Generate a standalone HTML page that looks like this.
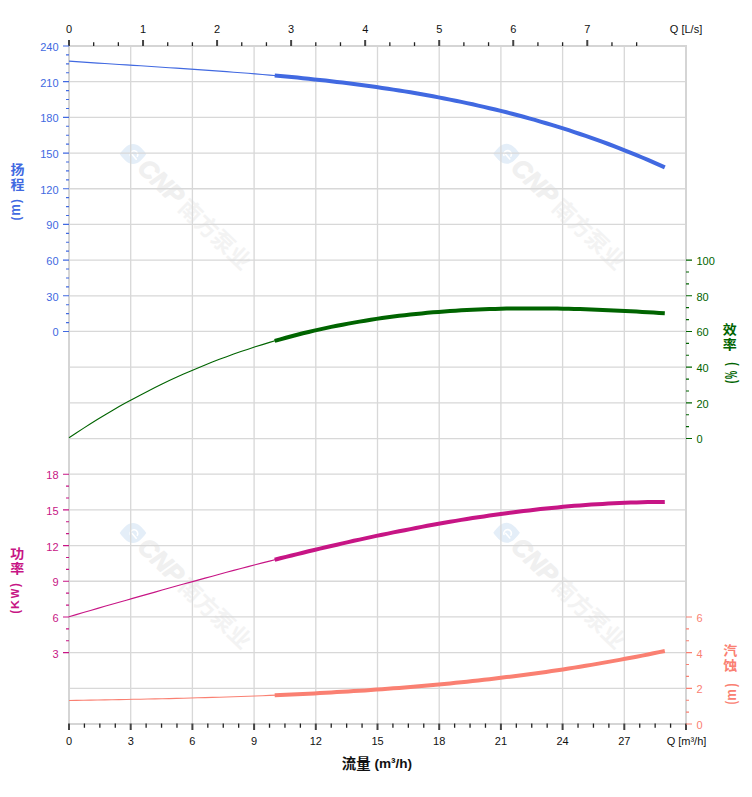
<!DOCTYPE html>
<html lang="zh"><head><meta charset="utf-8"><title>泵性能曲线</title>
<style>html,body{margin:0;padding:0;background:#fff}svg{display:block}text{font-family:"Liberation Sans","Noto Sans CJK SC",sans-serif}.t{font-size:11px}.b{font-weight:bold}</style></head><body>
<svg width="752" height="797" viewBox="0 0 752 797">
<rect width="752" height="797" fill="#fff"/>
<g transform="translate(133.0,154.0)"><path d="M-13.3,0 C-9,-6 -5,-10 0,-10 C5,-10 9,-6 13.3,0 C9,6 5,10 0,10 C-5,10 -9,6 -13.3,0 Z" fill="#e4eef8"/><g fill="none" stroke="#fff" stroke-linecap="round" stroke-width="1.6"><path d="M-2.7,1.6 A3.8,3.8 0 1 1 4.3,2.4"/><path d="M-0.8,0.6 L3.2,5.2"/></g><g transform="rotate(43.7)"><text x="13" y="9" font-size="25px" font-weight="bold" font-style="italic" fill="#f0f0f0" stroke="#f0f0f0" stroke-width="1.1" stroke-linejoin="round">CNP</text><text x="70" y="9.5" font-size="22.5px" font-weight="bold" fill="#f3f3f3">南方泵业</text></g></g>
<g transform="translate(506.6,153.8)"><path d="M-13.3,0 C-9,-6 -5,-10 0,-10 C5,-10 9,-6 13.3,0 C9,6 5,10 0,10 C-5,10 -9,6 -13.3,0 Z" fill="#e4eef8"/><g fill="none" stroke="#fff" stroke-linecap="round" stroke-width="1.6"><path d="M-2.7,1.6 A3.8,3.8 0 1 1 4.3,2.4"/><path d="M-0.8,0.6 L3.2,5.2"/></g><g transform="rotate(43.7)"><text x="13" y="9" font-size="25px" font-weight="bold" font-style="italic" fill="#f0f0f0" stroke="#f0f0f0" stroke-width="1.1" stroke-linejoin="round">CNP</text><text x="70" y="9.5" font-size="22.5px" font-weight="bold" fill="#f3f3f3">南方泵业</text></g></g>
<g transform="translate(133.0,533.0)"><path d="M-13.3,0 C-9,-6 -5,-10 0,-10 C5,-10 9,-6 13.3,0 C9,6 5,10 0,10 C-5,10 -9,6 -13.3,0 Z" fill="#e4eef8"/><g fill="none" stroke="#fff" stroke-linecap="round" stroke-width="1.6"><path d="M-2.7,1.6 A3.8,3.8 0 1 1 4.3,2.4"/><path d="M-0.8,0.6 L3.2,5.2"/></g><g transform="rotate(43.7)"><text x="13" y="9" font-size="25px" font-weight="bold" font-style="italic" fill="#f0f0f0" stroke="#f0f0f0" stroke-width="1.1" stroke-linejoin="round">CNP</text><text x="70" y="9.5" font-size="22.5px" font-weight="bold" fill="#f3f3f3">南方泵业</text></g></g>
<g transform="translate(506.6,532.8)"><path d="M-13.3,0 C-9,-6 -5,-10 0,-10 C5,-10 9,-6 13.3,0 C9,6 5,10 0,10 C-5,10 -9,6 -13.3,0 Z" fill="#e4eef8"/><g fill="none" stroke="#fff" stroke-linecap="round" stroke-width="1.6"><path d="M-2.7,1.6 A3.8,3.8 0 1 1 4.3,2.4"/><path d="M-0.8,0.6 L3.2,5.2"/></g><g transform="rotate(43.7)"><text x="13" y="9" font-size="25px" font-weight="bold" font-style="italic" fill="#f0f0f0" stroke="#f0f0f0" stroke-width="1.1" stroke-linejoin="round">CNP</text><text x="70" y="9.5" font-size="22.5px" font-weight="bold" fill="#f3f3f3">南方泵业</text></g></g>
<path d="M130.70,46.0 V724.0 M192.40,46.0 V724.0 M254.10,46.0 V724.0 M315.80,46.0 V724.0 M377.50,46.0 V724.0 M439.20,46.0 V724.0 M500.90,46.0 V724.0 M562.60,46.0 V724.0 M624.30,46.0 V724.0 M69.0,81.68 H686.0 M69.0,117.37 H686.0 M69.0,153.05 H686.0 M69.0,188.74 H686.0 M69.0,224.42 H686.0 M69.0,260.11 H686.0 M69.0,295.79 H686.0 M69.0,331.47 H686.0 M69.0,367.16 H686.0 M69.0,402.84 H686.0 M69.0,438.53 H686.0 M69.0,474.21 H686.0 M69.0,509.89 H686.0 M69.0,545.58 H686.0 M69.0,581.26 H686.0 M69.0,616.95 H686.0 M69.0,652.63 H686.0 M69.0,688.32 H686.0" stroke="#d8d8d8" stroke-width="1.3" fill="none"/>
<rect x="69.0" y="46.0" width="617.0" height="678.0" fill="none" stroke="#d5d5d5" stroke-width="2"/>
<path d="M69.00,40 V46 M143.04,40 V46 M217.08,40 V46 M291.12,40 V46 M365.16,40 V46 M439.20,40 V46 M513.24,40 V46 M587.28,40 V46" stroke="#444" stroke-width="2" fill="none"/>
<path d="M93.68,42.3 V46 M118.36,42.3 V46 M167.72,42.3 V46 M192.40,42.3 V46 M241.76,42.3 V46 M266.44,42.3 V46 M315.80,42.3 V46 M340.48,42.3 V46 M389.84,42.3 V46 M414.52,42.3 V46 M463.88,42.3 V46 M488.56,42.3 V46 M537.92,42.3 V46 M562.60,42.3 V46 M611.96,42.3 V46 M636.64,42.3 V46" stroke="#222" stroke-width="1.3" fill="none"/>
<text class="t" x="69.0" y="33" text-anchor="middle" fill="#111">0</text>
<text class="t" x="143.0" y="33" text-anchor="middle" fill="#111">1</text>
<text class="t" x="217.1" y="33" text-anchor="middle" fill="#111">2</text>
<text class="t" x="291.1" y="33" text-anchor="middle" fill="#111">3</text>
<text class="t" x="365.2" y="33" text-anchor="middle" fill="#111">4</text>
<text class="t" x="439.2" y="33" text-anchor="middle" fill="#111">5</text>
<text class="t" x="513.2" y="33" text-anchor="middle" fill="#111">6</text>
<text class="t" x="587.3" y="33" text-anchor="middle" fill="#111">7</text>
<text class="t" x="686" y="33" text-anchor="middle" fill="#111">Q [L/s]</text>
<path d="M69.00,723.6 V730 M130.70,723.6 V730 M192.40,723.6 V730 M254.10,723.6 V730 M315.80,723.6 V730 M377.50,723.6 V730 M439.20,723.6 V730 M500.90,723.6 V730 M562.60,723.6 V730 M624.30,723.6 V730 M686.00,723.6 V730" stroke="#444" stroke-width="2" fill="none"/>
<path d="M84.42,723.6 V727.8 M99.85,723.6 V727.8 M115.28,723.6 V727.8 M146.12,723.6 V727.8 M161.55,723.6 V727.8 M176.97,723.6 V727.8 M207.82,723.6 V727.8 M223.25,723.6 V727.8 M238.67,723.6 V727.8 M269.52,723.6 V727.8 M284.95,723.6 V727.8 M300.38,723.6 V727.8 M331.23,723.6 V727.8 M346.65,723.6 V727.8 M362.07,723.6 V727.8 M392.92,723.6 V727.8 M408.35,723.6 V727.8 M423.77,723.6 V727.8 M454.62,723.6 V727.8 M470.05,723.6 V727.8 M485.47,723.6 V727.8 M516.32,723.6 V727.8 M531.75,723.6 V727.8 M547.17,723.6 V727.8 M578.03,723.6 V727.8 M593.45,723.6 V727.8 M608.88,723.6 V727.8 M639.73,723.6 V727.8 M655.15,723.6 V727.8 M670.58,723.6 V727.8" stroke="#222" stroke-width="1.3" fill="none"/>
<text class="t" x="69.0" y="745" text-anchor="middle" fill="#111">0</text>
<text class="t" x="130.7" y="745" text-anchor="middle" fill="#111">3</text>
<text class="t" x="192.4" y="745" text-anchor="middle" fill="#111">6</text>
<text class="t" x="254.1" y="745" text-anchor="middle" fill="#111">9</text>
<text class="t" x="315.8" y="745" text-anchor="middle" fill="#111">12</text>
<text class="t" x="377.5" y="745" text-anchor="middle" fill="#111">15</text>
<text class="t" x="439.2" y="745" text-anchor="middle" fill="#111">18</text>
<text class="t" x="500.9" y="745" text-anchor="middle" fill="#111">21</text>
<text class="t" x="562.6" y="745" text-anchor="middle" fill="#111">24</text>
<text class="t" x="624.3" y="745" text-anchor="middle" fill="#111">27</text>
<text class="t" x="686.5" y="745" text-anchor="middle" fill="#111">Q [m³/h]</text>
<text class="b" x="377" y="768" text-anchor="middle" font-size="13.6px" fill="#111"><tspan font-size="14.4px" dy="0.9">流量</tspan><tspan dy="-0.9"> (m³/h)</tspan></text>
<path d="M63,46.00 H69 M63,81.68 H69 M63,117.37 H69 M63,153.05 H69 M63,188.74 H69 M63,224.42 H69 M63,260.11 H69 M63,295.79 H69 M63,331.47 H69" stroke="#4169E1" stroke-width="1.15" fill="none"/>
<path d="M66,54.92 H69 M66,63.84 H69 M66,72.76 H69 M66,90.61 H69 M66,99.53 H69 M66,108.45 H69 M66,126.29 H69 M66,135.21 H69 M66,144.13 H69 M66,161.97 H69 M66,170.89 H69 M66,179.82 H69 M66,197.66 H69 M66,206.58 H69 M66,215.50 H69 M66,233.34 H69 M66,242.26 H69 M66,251.18 H69 M66,269.03 H69 M66,277.95 H69 M66,286.87 H69 M66,304.71 H69 M66,313.63 H69 M66,322.55 H69" stroke="#4169E1" stroke-width="1.15" fill="none"/>
<text class="t" x="58.6" y="50.9" text-anchor="end" fill="#4169E1">240</text>
<text class="t" x="58.6" y="86.6" text-anchor="end" fill="#4169E1">210</text>
<text class="t" x="58.6" y="122.3" text-anchor="end" fill="#4169E1">180</text>
<text class="t" x="58.6" y="158.0" text-anchor="end" fill="#4169E1">150</text>
<text class="t" x="58.6" y="193.6" text-anchor="end" fill="#4169E1">120</text>
<text class="t" x="58.6" y="229.3" text-anchor="end" fill="#4169E1">90</text>
<text class="t" x="58.6" y="265.0" text-anchor="end" fill="#4169E1">60</text>
<text class="t" x="58.6" y="300.7" text-anchor="end" fill="#4169E1">30</text>
<text class="t" x="58.6" y="336.4" text-anchor="end" fill="#4169E1">0</text>
<path d="M686,260.11 H692 M686,295.79 H692 M686,331.47 H692 M686,367.16 H692 M686,402.84 H692 M686,438.53 H692" stroke="#006400" stroke-width="1.15" fill="none"/>
<path d="M686,272.00 H689 M686,283.89 H689 M686,307.68 H689 M686,319.58 H689 M686,343.37 H689 M686,355.26 H689 M686,379.05 H689 M686,390.95 H689 M686,414.74 H689 M686,426.63 H689" stroke="#006400" stroke-width="1.15" fill="none"/>
<text class="t" x="696.5" y="265.0" fill="#006400">100</text>
<text class="t" x="696.5" y="300.7" fill="#006400">80</text>
<text class="t" x="696.5" y="336.4" fill="#006400">60</text>
<text class="t" x="696.5" y="372.1" fill="#006400">40</text>
<text class="t" x="696.5" y="407.7" fill="#006400">20</text>
<text class="t" x="696.5" y="443.4" fill="#006400">0</text>
<path d="M63,474.21 H69 M63,509.89 H69 M63,545.58 H69 M63,581.26 H69 M63,616.95 H69 M63,652.63 H69" stroke="#C71585" stroke-width="1.15" fill="none"/>
<path d="M66,486.11 H69 M66,498.00 H69 M66,521.79 H69 M66,533.68 H69 M66,557.47 H69 M66,569.37 H69 M66,593.16 H69 M66,605.05 H69 M66,628.84 H69 M66,640.74 H69" stroke="#C71585" stroke-width="1.15" fill="none"/>
<text class="t" x="58.6" y="479.1" text-anchor="end" fill="#C71585">18</text>
<text class="t" x="58.6" y="514.8" text-anchor="end" fill="#C71585">15</text>
<text class="t" x="58.6" y="550.5" text-anchor="end" fill="#C71585">12</text>
<text class="t" x="58.6" y="586.2" text-anchor="end" fill="#C71585">9</text>
<text class="t" x="58.6" y="621.8" text-anchor="end" fill="#C71585">6</text>
<text class="t" x="58.6" y="657.5" text-anchor="end" fill="#C71585">3</text>
<path d="M686,616.95 H692 M686,652.63 H692 M686,688.32 H692 M686,724.00 H692" stroke="#FA8072" stroke-width="1.15" fill="none"/>
<path d="M686,628.84 H689 M686,640.74 H689 M686,664.53 H689 M686,676.42 H689 M686,700.21 H689 M686,712.11 H689" stroke="#FA8072" stroke-width="1.15" fill="none"/>
<text class="t" x="696.5" y="621.8" fill="#FA8072">6</text>
<text class="t" x="696.5" y="657.5" fill="#FA8072">4</text>
<text class="t" x="696.5" y="693.2" fill="#FA8072">2</text>
<text class="t" x="696.5" y="728.9" fill="#FA8072">0</text>
<polyline points="69.0,61.1 76.2,61.6 83.3,62.1 90.5,62.6 97.7,63.1 104.8,63.5 112.0,64.0 119.1,64.5 126.3,64.9 133.5,65.4 140.6,65.8 147.8,66.3 155.0,66.7 162.1,67.2 169.3,67.7 176.4,68.1 183.6,68.6 190.8,69.1 197.9,69.6 205.1,70.1 212.3,70.6 219.4,71.1 226.6,71.6 233.7,72.2 240.9,72.7 248.1,73.3 255.2,73.9 262.4,74.5 269.6,75.1 276.7,75.7" fill="none" stroke="#4169E1" stroke-width="1.1"/>
<polyline points="274.7,75.5 280.3,76.0 286.0,76.6 291.6,77.1 297.3,77.6 302.9,78.2 308.6,78.8 314.2,79.4 319.9,80.0 325.6,80.6 331.2,81.3 336.9,81.9 342.5,82.6 348.2,83.3 353.8,84.0 359.5,84.8 365.1,85.5 370.8,86.3 376.4,87.1 382.1,87.9 387.8,88.7 393.4,89.6 399.1,90.5 404.7,91.4 410.4,92.3 416.0,93.3 421.7,94.3 427.3,95.3 433.0,96.3 438.6,97.4 444.3,98.5 450.0,99.6 455.6,100.7 461.3,101.9 466.9,103.1 472.6,104.3 478.2,105.6 483.9,106.9 489.5,108.2 495.2,109.5 500.8,110.9 506.5,112.3 512.1,113.8 517.8,115.3 523.5,116.8 529.1,118.4 534.8,119.9 540.4,121.6 546.1,123.2 551.7,124.9 557.4,126.7 563.0,128.4 568.7,130.2 574.3,132.1 580.0,134.0 585.7,135.9 591.3,137.9 597.0,139.9 602.6,141.9 608.3,144.0 613.9,146.2 619.6,148.3 625.2,150.6 630.9,152.8 636.5,155.1 642.2,157.5 647.9,159.9 653.5,162.3 659.2,164.8 664.8,167.4" fill="none" stroke="#4169E1" stroke-width="4" stroke-linejoin="round"/>
<polyline points="69.0,437.8 76.2,433.0 83.3,428.4 90.5,423.8 97.7,419.3 104.8,415.0 112.0,410.8 119.1,406.6 126.3,402.6 133.5,398.7 140.6,394.9 147.8,391.2 155.0,387.5 162.1,384.0 169.3,380.6 176.4,377.3 183.6,374.1 190.8,370.9 197.9,367.9 205.1,365.0 212.3,362.1 219.4,359.3 226.6,356.7 233.7,354.1 240.9,351.6 248.1,349.2 255.2,346.8 262.4,344.6 269.6,342.4 276.7,340.3" fill="none" stroke="#006400" stroke-width="1.1"/>
<polyline points="274.7,340.9 280.3,339.3 286.0,337.7 291.6,336.2 297.3,334.8 302.9,333.3 308.6,332.0 314.2,330.6 319.9,329.4 325.6,328.1 331.2,326.9 336.9,325.8 342.5,324.7 348.2,323.6 353.8,322.6 359.5,321.6 365.1,320.7 370.8,319.8 376.4,318.9 382.1,318.1 387.8,317.3 393.4,316.6 399.1,315.8 404.7,315.2 410.4,314.5 416.0,313.9 421.7,313.4 427.3,312.8 433.0,312.3 438.6,311.9 444.3,311.4 450.0,311.0 455.6,310.7 461.3,310.3 466.9,310.0 472.6,309.7 478.2,309.5 483.9,309.2 489.5,309.0 495.2,308.9 500.8,308.7 506.5,308.6 512.1,308.5 517.8,308.4 523.5,308.4 529.1,308.4 534.8,308.4 540.4,308.4 546.1,308.4 551.7,308.5 557.4,308.6 563.0,308.7 568.7,308.8 574.3,309.0 580.0,309.1 585.7,309.3 591.3,309.5 597.0,309.7 602.6,309.9 608.3,310.2 613.9,310.4 619.6,310.7 625.2,311.0 630.9,311.3 636.5,311.6 642.2,311.9 647.9,312.3 653.5,312.6 659.2,313.0 664.8,313.3" fill="none" stroke="#006400" stroke-width="4" stroke-linejoin="round"/>
<polyline points="69.0,616.7 76.2,614.6 83.3,612.5 90.5,610.5 97.7,608.4 104.8,606.3 112.0,604.3 119.1,602.2 126.3,600.2 133.5,598.1 140.6,596.1 147.8,594.1 155.0,592.1 162.1,590.0 169.3,588.0 176.4,586.0 183.6,584.0 190.8,582.1 197.9,580.1 205.1,578.1 212.3,576.2 219.4,574.2 226.6,572.3 233.7,570.4 240.9,568.5 248.1,566.6 255.2,564.7 262.4,562.9 269.6,561.1 276.7,559.2" fill="none" stroke="#C71585" stroke-width="1.1"/>
<polyline points="274.7,559.8 280.3,558.3 286.0,556.9 291.6,555.5 297.3,554.1 302.9,552.7 308.6,551.3 314.2,550.0 319.9,548.6 325.6,547.3 331.2,546.0 336.9,544.7 342.5,543.4 348.2,542.1 353.8,540.8 359.5,539.6 365.1,538.4 370.8,537.1 376.4,535.9 382.1,534.7 387.8,533.6 393.4,532.4 399.1,531.3 404.7,530.2 410.4,529.1 416.0,528.0 421.7,526.9 427.3,525.8 433.0,524.8 438.6,523.8 444.3,522.8 450.0,521.8 455.6,520.9 461.3,519.9 466.9,519.0 472.6,518.1 478.2,517.3 483.9,516.4 489.5,515.6 495.2,514.8 500.8,514.0 506.5,513.2 512.1,512.5 517.8,511.7 523.5,511.0 529.1,510.4 534.8,509.7 540.4,509.1 546.1,508.5 551.7,507.9 557.4,507.4 563.0,506.8 568.7,506.3 574.3,505.8 580.0,505.4 585.7,505.0 591.3,504.6 597.0,504.2 602.6,503.9 608.3,503.5 613.9,503.3 619.6,503.0 625.2,502.8 630.9,502.6 636.5,502.4 642.2,502.2 647.9,502.1 653.5,502.0 659.2,502.0 664.8,501.9" fill="none" stroke="#C71585" stroke-width="4" stroke-linejoin="round"/>
<polyline points="69.0,700.5 76.2,700.4 83.3,700.2 90.5,700.1 97.7,700.0 104.8,699.9 112.0,699.7 119.1,699.6 126.3,699.5 133.5,699.3 140.6,699.2 147.8,699.0 155.0,698.9 162.1,698.7 169.3,698.6 176.4,698.4 183.6,698.2 190.8,698.0 197.9,697.8 205.1,697.6 212.3,697.4 219.4,697.2 226.6,697.0 233.7,696.8 240.9,696.5 248.1,696.3 255.2,696.0 262.4,695.7 269.6,695.4 276.7,695.1" fill="none" stroke="#FA8072" stroke-width="1.1"/>
<polyline points="274.7,695.2 280.3,695.0 286.0,694.7 291.6,694.5 297.3,694.2 302.9,693.9 308.6,693.7 314.2,693.4 319.9,693.1 325.6,692.8 331.2,692.5 336.9,692.1 342.5,691.8 348.2,691.5 353.8,691.1 359.5,690.7 365.1,690.4 370.8,690.0 376.4,689.6 382.1,689.2 387.8,688.8 393.4,688.3 399.1,687.9 404.7,687.4 410.4,687.0 416.0,686.5 421.7,686.0 427.3,685.5 433.0,685.0 438.6,684.5 444.3,684.0 450.0,683.4 455.6,682.8 461.3,682.3 466.9,681.7 472.6,681.1 478.2,680.5 483.9,679.8 489.5,679.2 495.2,678.5 500.8,677.8 506.5,677.1 512.1,676.4 517.8,675.7 523.5,675.0 529.1,674.2 534.8,673.5 540.4,672.7 546.1,671.9 551.7,671.1 557.4,670.2 563.0,669.4 568.7,668.5 574.3,667.6 580.0,666.7 585.7,665.8 591.3,664.9 597.0,663.9 602.6,662.9 608.3,661.9 613.9,660.9 619.6,659.9 625.2,658.8 630.9,657.8 636.5,656.7 642.2,655.6 647.9,654.5 653.5,653.3 659.2,652.1 664.8,651.0" fill="none" stroke="#FA8072" stroke-width="4" stroke-linejoin="round"/>
<g fill="#4169E1" font-weight="bold"><text transform="translate(17.40,169.00) scale(1,0.9)" y="5.32" text-anchor="middle" font-size="14px">扬</text><text transform="translate(17.40,184.00) scale(1,0.9)" y="5.32" text-anchor="middle" font-size="14px">程</text><text transform="translate(17.00,201.40) rotate(-90) scale(0.816,0.932) translate(-2.03,3.60)" font-size="14px">)</text><text transform="translate(16.10,210.10) rotate(-90) scale(0.921,1.058) translate(-6.23,3.78)" font-size="14px">m</text><text transform="translate(17.00,218.35) rotate(-90) scale(0.740,0.932) translate(-2.66,3.60)" font-size="14px">(</text></g>
<g fill="#C71585" font-weight="bold"><text transform="translate(17.25,553.30) scale(1,0.9)" y="5.32" text-anchor="middle" font-size="14px">功</text><text transform="translate(17.25,568.00) scale(1,0.9)" y="5.32" text-anchor="middle" font-size="14px">率</text><text transform="translate(16.35,585.35) rotate(-90) scale(0.791,0.863) translate(-2.03,3.60)" font-size="14px">)</text><text transform="translate(15.00,593.50) rotate(-90) scale(0.729,0.828) translate(-6.58,4.83)" font-size="14px">W</text><text transform="translate(15.00,604.30) rotate(-90) scale(0.886,0.828) translate(-5.42,4.83)" font-size="14px">K</text><text transform="translate(16.35,611.45) rotate(-90) scale(0.740,0.863) translate(-2.66,3.60)" font-size="14px">(</text></g>
<g fill="#006400" font-weight="bold"><text transform="translate(729.80,329.20) scale(1,0.9)" y="5.32" text-anchor="middle" font-size="14px">效</text><text transform="translate(729.80,344.00) scale(1,0.9)" y="5.32" text-anchor="middle" font-size="14px">率</text><text transform="translate(732.35,364.35) rotate(-90) scale(0.740,1.001) translate(-2.03,3.60)" font-size="14px">)</text><text transform="translate(731.50,374.85) rotate(-90) scale(0.655,1.114) translate(-6.23,4.79)" font-size="14px">%</text><text transform="translate(732.35,381.50) rotate(-90) scale(0.765,1.001) translate(-2.66,3.60)" font-size="14px">(</text></g>
<g fill="#FA8072" font-weight="bold"><text transform="translate(730.20,650.00) scale(1,0.9)" y="5.32" text-anchor="middle" font-size="14px">汽</text><text transform="translate(730.20,664.80) scale(1,0.9)" y="5.32" text-anchor="middle" font-size="14px">蚀</text><text transform="translate(732.35,685.50) rotate(-90) scale(0.765,1.001) translate(-2.03,3.60)" font-size="14px">)</text><text transform="translate(731.95,695.10) rotate(-90) scale(0.921,1.045) translate(-6.23,3.78)" font-size="14px">m</text><text transform="translate(732.35,702.35) rotate(-90) scale(0.689,1.001) translate(-2.66,3.60)" font-size="14px">(</text></g>
</svg></body></html>
